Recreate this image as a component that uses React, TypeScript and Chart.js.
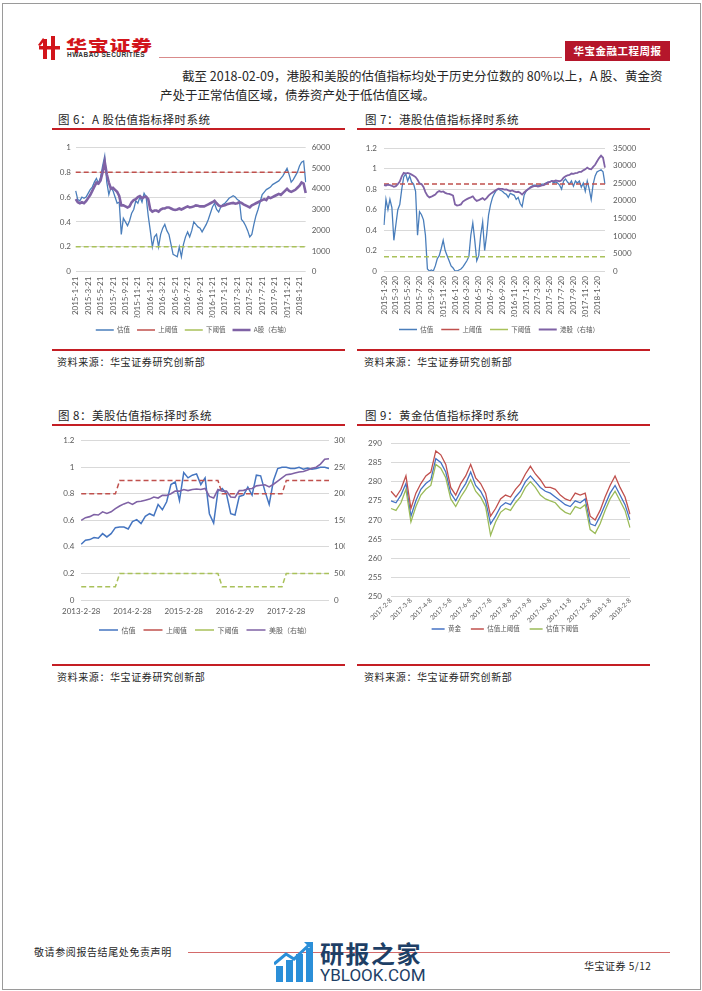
import React, { useEffect, useRef } from "react";
import { Chart, registerables } from "chart.js";

Chart.register(...registerables);

const NUM_FONT = "Lato, 'Noto Sans CJK SC', sans-serif";
const CJK_FONT = "'Noto Sans CJK SC', sans-serif";
const TICK_COLOR = "#595959";
const GRID_COLOR = "#d9d9d9";
const BLUE = "#4a7ebb";
const RED = "#c0504d";
const OLIVE = "#a9c15a";
const GREEN = "#9bbb59";
const PURPLE = "#7f62a5";
const RULE_RED = "#c41e24";

// ---------- 图6 A股 ----------
const a6Ticks = ["2015-1-21", "2015-3-21", "2015-5-21", "2015-7-21", "2015-9-21", "2015-11-21", "2016-1-21", "2016-3-21", "2016-5-21", "2016-7-21", "2016-9-21", "2016-11-21", "2017-1-21", "2017-3-21", "2017-5-21", "2017-7-21", "2017-9-21", "2017-11-21", "2018-1-21"];
const a6Valuation = [0.65, 0.58, 0.57, 0.60, 0.59, 0.60, 0.63, 0.66, 0.68, 0.72, 0.75, 0.71, 0.76, 0.85, 0.93, 0.72, 0.62, 0.68, 0.65, 0.60, 0.55, 0.56, 0.30, 0.43, 0.40, 0.37, 0.41, 0.47, 0.50, 0.57, 0.55, 0.60, 0.56, 0.63, 0.60, 0.45, 0.33, 0.20, 0.28, 0.30, 0.20, 0.30, 0.35, 0.38, 0.33, 0.30, 0.22, 0.14, 0.13, 0.12, 0.20, 0.12, 0.22, 0.28, 0.32, 0.28, 0.33, 0.40, 0.38, 0.36, 0.35, 0.32, 0.35, 0.38, 0.42, 0.47, 0.52, 0.55, 0.50, 0.48, 0.52, 0.54, 0.55, 0.57, 0.59, 0.60, 0.61, 0.60, 0.58, 0.57, 0.42, 0.40, 0.37, 0.33, 0.28, 0.30, 0.38, 0.45, 0.50, 0.56, 0.62, 0.64, 0.66, 0.67, 0.68, 0.70, 0.71, 0.72, 0.73, 0.75, 0.77, 0.80, 0.83, 0.78, 0.72, 0.74, 0.77, 0.80, 0.85, 0.88, 0.89, 0.72];
const a6Index = [3500, 3350, 3300, 3350, 3300, 3400, 3550, 3700, 3900, 4100, 4300, 4250, 4400, 4800, 5300, 4700, 4300, 4000, 4050, 3950, 3850, 3650, 3200, 3200, 3150, 3100, 3150, 3350, 3450, 3500, 3600, 3650, 3550, 3600, 3620, 3500, 3000, 2900, 2950, 2950, 2900, 3000, 3050, 3050, 3100, 3100, 3050, 3000, 2980, 3000, 3050, 3000, 3050, 3100, 3150, 3100, 3120, 3150, 3200, 3180, 3150, 3150, 3150, 3200, 3250, 3300, 3350, 3420, 3300, 3200, 3150, 3180, 3200, 3250, 3280, 3300, 3320, 3280, 3300, 3350, 3320, 3250, 3200, 3150, 3100, 3200, 3250, 3300, 3350, 3400, 3450, 3500, 3450, 3600, 3550, 3600, 3650, 3700, 3750, 3700, 3800, 3900, 4000, 3900, 3850, 3900, 3950, 4050, 4150, 4300, 4250, 3800];
const a6Upper = 0.8;
const a6Lower = 0.2;

// ---------- 图7 港股 ----------
const a7Ticks = ["2015-1-20", "2015-3-20", "2015-5-20", "2015-7-20", "2015-9-20", "2015-11-20", "2016-1-20", "2016-3-20", "2016-5-20", "2016-7-20", "2016-9-20", "2016-11-20", "2017-1-20", "2017-3-20", "2017-5-20", "2017-7-20", "2017-9-20", "2017-11-20", "2018-1-20"];
const a7Valuation = [0.45, 0.70, 0.60, 0.70, 0.62, 0.30, 0.45, 0.60, 0.65, 0.80, 0.92, 0.95, 0.88, 0.93, 0.87, 0.85, 0.78, 0.35, 0.58, 0.55, 0.50, 0.35, 0.02, 0.00, 0.01, 0.00, 0.05, 0.12, 0.15, 0.22, 0.30, 0.20, 0.15, 0.10, 0.05, 0.03, 0.00, 0.00, 0.01, 0.02, 0.04, 0.07, 0.10, 0.14, 0.35, 0.47, 0.30, 0.10, 0.15, 0.35, 0.48, 0.20, 0.35, 0.55, 0.65, 0.72, 0.76, 0.79, 0.80, 0.79, 0.78, 0.76, 0.75, 0.72, 0.76, 0.75, 0.74, 0.70, 0.72, 0.66, 0.63, 0.74, 0.78, 0.80, 0.82, 0.83, 0.84, 0.84, 0.83, 0.84, 0.85, 0.85, 0.86, 0.87, 0.87, 0.88, 0.86, 0.87, 0.86, 0.84, 0.80, 0.88, 0.90, 0.87, 0.85, 0.88, 0.83, 0.88, 0.86, 0.88, 0.82, 0.86, 0.78, 0.88, 0.80, 0.70, 0.85, 0.93, 0.97, 0.98, 0.99, 0.97, 0.85];
const a7Index = [24500, 24400, 24600, 24500, 24300, 24000, 24200, 24800, 25500, 27000, 28000, 27800, 28000, 27800, 27500, 27200, 26800, 26000, 25000, 24800, 24000, 22500, 21500, 21000, 21200, 21500, 21800, 22500, 22800, 22600, 22700, 22300, 22100, 22000, 21800, 21500, 19000, 18700, 18800, 19000, 19800, 20200, 20500, 20800, 21000, 21300, 20500, 20000, 20200, 20500, 20800, 20300, 20800, 21500, 22000, 22400, 22800, 23200, 23500, 23400, 23400, 23200, 23300, 23000, 22800, 23000, 22700, 22500, 22600, 22300, 21800, 22400, 22900, 23300, 23700, 24000, 24200, 24300, 24100, 24200, 24400, 24500, 24800, 25200, 25400, 25700, 25600, 25800, 25700, 25600, 25900, 26600, 27000, 27300, 27400, 27800, 27700, 27900, 28000, 28300, 28300, 28700, 29000, 29500, 29100, 29000, 29700, 30300, 31300, 32200, 32900, 32300, 29500];
const a7Upper = 0.85;
const a7Lower = 0.14;

// ---------- 图8 美股 ----------
const a8Ticks = ["2013-2-28", "2014-2-28", "2015-2-28", "2016-2-29", "2017-2-28"];
const a8Valuation = [0.42, 0.45, 0.455, 0.47, 0.465, 0.50, 0.475, 0.50, 0.545, 0.55, 0.55, 0.535, 0.59, 0.605, 0.575, 0.63, 0.65, 0.635, 0.72, 0.68, 0.74, 0.87, 0.89, 0.75, 0.96, 0.92, 0.94, 0.95, 0.87, 0.92, 0.65, 0.58, 0.82, 0.84, 0.80, 0.65, 0.64, 0.78, 0.79, 0.85, 0.79, 0.94, 0.935, 0.82, 0.72, 0.90, 0.99, 1.0, 1.0, 0.99, 0.99, 1.0, 0.985, 0.995, 0.985, 0.99, 1.0, 1.0, 0.99];
const a8Upper = [0.8, 0.8, 0.8, 0.8, 0.8, 0.8, 0.8, 0.8, 0.8, 0.9, 0.9, 0.9, 0.9, 0.9, 0.9, 0.9, 0.9, 0.9, 0.9, 0.9, 0.9, 0.9, 0.9, 0.9, 0.9, 0.9, 0.9, 0.9, 0.9, 0.9, 0.9, 0.9, 0.9, 0.8, 0.8, 0.8, 0.8, 0.8, 0.8, 0.8, 0.8, 0.8, 0.8, 0.8, 0.8, 0.8, 0.8, 0.8, 0.9, 0.9, 0.9, 0.9, 0.9, 0.9, 0.9, 0.9, 0.9, 0.9, 0.9];
const a8Lower = [0.1, 0.1, 0.1, 0.1, 0.1, 0.1, 0.1, 0.1, 0.1, 0.2, 0.2, 0.2, 0.2, 0.2, 0.2, 0.2, 0.2, 0.2, 0.2, 0.2, 0.2, 0.2, 0.2, 0.2, 0.2, 0.2, 0.2, 0.2, 0.2, 0.2, 0.2, 0.2, 0.2, 0.1, 0.1, 0.1, 0.1, 0.1, 0.1, 0.1, 0.1, 0.1, 0.1, 0.1, 0.1, 0.1, 0.1, 0.1, 0.2, 0.2, 0.2, 0.2, 0.2, 0.2, 0.2, 0.2, 0.2, 0.2, 0.2];
const a8Index = [1500, 1550, 1570, 1610, 1600, 1660, 1630, 1660, 1720, 1770, 1810, 1840, 1800, 1850, 1860, 1880, 1900, 1940, 1920, 1970, 1970, 2000, 2050, 2050, 2080, 2060, 2080, 2090, 2080, 2100, 1950, 1920, 2080, 2050, 2050, 1940, 1930, 2060, 2065, 2090, 2100, 2150, 2160, 2170, 2130, 2180, 2240, 2300, 2360, 2370, 2390, 2410, 2420, 2450, 2480, 2500, 2560, 2650, 2660];

// ---------- 图9 黄金 ----------
const a9Ticks = ["2017-2-8", "2017-3-8", "2017-4-8", "2017-5-8", "2017-6-8", "2017-7-8", "2017-8-8", "2017-9-8", "2017-10-8", "2017-11-8", "2017-12-8", "2018-1-8", "2018-2-8"];
const a9Gold = [275, 274.5, 276.5, 279.5, 271, 275, 278, 279.5, 280.5, 286, 285, 282.5, 277, 275, 277.5, 279.5, 282.5, 279, 277.5, 275, 269, 271, 273.5, 274.5, 274, 276, 277.5, 280, 281.5, 280, 278.5, 277.5, 277, 276, 275, 274, 273.5, 275, 274.5, 275.5, 269, 268.5, 271, 274, 277, 279, 276.5, 274, 270];
const a9Upper = [277.5, 276, 278, 281.5, 273, 277, 279.5, 281.5, 282.5, 288, 287, 284.5, 278.5, 276.5, 279.5, 281.5, 284.5, 281, 279.5, 277, 271, 273, 275.5, 276.5, 276, 278, 279.5, 282, 284, 282, 280.5, 278.5, 278.5, 278, 276.5, 275.5, 275, 277, 276.5, 277, 271, 270, 272.5, 276, 279, 281.5, 278.5, 276, 271.5];
const a9Lower = [273, 272.5, 274.5, 278, 269.5, 273.5, 276.5, 278, 279, 284.5, 283.5, 281, 275.5, 273.5, 276, 278, 280.5, 277.5, 276, 273.5, 266, 269.5, 272, 273, 272.5, 274.5, 276, 278.5, 280, 278.5, 276.5, 275.5, 275, 274.5, 273, 272, 271.5, 273.5, 273, 274, 267.5, 266.5, 269, 272.5, 275.5, 277.5, 275, 272.5, 268];

// ---------- helpers ----------
function ds(label: string, data: number[], color: string, width: number, yAxisID: string, order: number, dash: number[] = []) {
  return {
    label,
    data,
    borderColor: color,
    backgroundColor: color,
    borderWidth: width,
    borderDash: dash,
    pointRadius: 0,
    pointHoverRadius: 0,
    tension: 0,
    fill: false,
    yAxisID,
    order,
  };
}

const fixW = (w: number) => (s: any) => {
  s.width = w;
};
const fixH = (h: number) => (s: any) => {
  s.height = h;
};

// places the legend row so that its items are centred at (cx, cy) in canvas px
function legendPlace(cx: number, cy: number) {
  return {
    id: "legendPlace",
    afterLayout(chart: any) {
      const lg = chart.legend;
      if (!lg) return;
      const pad = lg.options.labels.padding;
      const size = lg.options.labels.font.size;
      const newTop = cy - pad - size / 2;
      const dy = newTop - lg.top;
      const dx = cx - (lg.left + lg.right) / 2;
      lg.top += dy;
      lg.bottom += dy;
      lg.left += dx;
      lg.right += dx;
    },
  };
}

function legendOpts(size: number, lineW: number, padding: number) {
  return {
    position: "bottom",
    labels: {
      usePointStyle: true,
      pointStyle: "line",
      pointStyleWidth: lineW,
      padding,
      color: TICK_COLOR,
      font: { size, family: CJK_FONT },
      sort: (a: any, b: any) => a.datasetIndex - b.datasetIndex,
    },
  };
}

const tickFont = { size: 8, family: NUM_FONT };
const fmt = (v: any) => String(Math.round(Number(v) * 1000) / 1000);

function yAxis(pos: "left" | "right", min: number, max: number, step: number, pad: number, width: number, grid: boolean) {
  return {
    position: pos,
    min,
    max,
    ticks: { stepSize: step, padding: pad, color: TICK_COLOR, font: tickFont, callback: fmt },
    grid: { display: grid, color: GRID_COLOR, drawTicks: false, lineWidth: 1 },
    border: { display: false },
    afterFit: fixW(width),
  };
}

function xAxis(tickLabels: string[], every: number, rotation: number, pad: number, height: number, size = 8) {
  return {
    ticks: {
      autoSkip: false,
      maxRotation: rotation,
      minRotation: rotation,
      padding: pad,
      color: TICK_COLOR,
      font: { size, family: NUM_FONT },
      callback: (_v: any, i: number) => (i % every === 0 && tickLabels[i / every] ? tickLabels[i / every] : null),
    },
    grid: { display: false, drawTicks: false },
    border: { display: false },
    afterFit: fixH(height),
  };
}

// bottom padding so that the plot bottom lands at plotBottom (canvas px)
const padBottom = (H: number, plotBottom: number, xH: number, lgSize: number, lgPad: number) => H - plotBottom - xH - (lgSize + lgPad + 10);

function baseOptions(padding: any, scales: any, legend: any) {
  return {
    animation: false,
    responsive: false,
    events: [],
    layout: { padding },
    plugins: { legend, tooltip: { enabled: false }, title: { display: false } },
    scales,
  };
}

const make6 = () => ({
  type: "line",
  data: {
    labels: a6Valuation.map((_, i) => String(i)),
    datasets: [
      ds("估值", a6Valuation, BLUE, 1.3, "y", 4),
      ds("上阈值", a6Valuation.map(() => a6Upper), RED, 1.5, "y", 3, [5, 3]),
      ds("下阈值", a6Valuation.map(() => a6Lower), OLIVE, 1.5, "y", 2, [5, 3]),
      ds("A股（右轴）", a6Index, PURPLE, 2.6, "y1", 1),
    ],
  },
  options: baseOptions(
    { left: 0, right: 14, top: 16.3, bottom: padBottom(215, 140.7, 45.8, 6.5, 7) },
    {
      x: xAxis(a6Ticks, 6, 90, 5, 45.8),
      y: yAxis("left", 0, 1, 0.1, 4.7, 20.7, true),
      y1: yAxis("right", 0, 6000, 1000, 6, 25.3, false),
    },
    legendOpts(6.5, 18, 7)
  ),
  plugins: [legendPlace(193 - 55, 330 - 131)],
});

const make7 = () => ({
  type: "line",
  data: {
    labels: a7Valuation.map((_, i) => String(i)),
    datasets: [
      ds("估值", a7Valuation, BLUE, 1.3, "y", 4),
      ds("上阈值", a7Valuation.map(() => a7Upper), RED, 1.5, "y", 3, [5, 3]),
      ds("下阈值", a7Valuation.map(() => a7Lower), OLIVE, 1.5, "y", 2, [5, 3]),
      ds("港股（右轴）", a7Index, PURPLE, 1.8, "y1", 1),
    ],
  },
  options: baseOptions(
    { left: 0, right: 10, top: 17.3, bottom: padBottom(215, 140, 45.8, 6.5, 8) },
    {
      x: xAxis(a7Ticks, 6, 90, 5, 45.8),
      y: yAxis("left", 0, 1.2, 0.2, 7, 26, true),
      y1: yAxis("right", 0, 35000, 5000, 8, 35, false),
    },
    legendOpts(6.5, 18, 8)
  ),
  plugins: [legendPlace(499 - 358, 329.5 - 131)],
});

const make8 = () => ({
  type: "line",
  data: {
    labels: a8Valuation.map((_, i) => String(i)),
    datasets: [
      ds("估值", a8Valuation, "#4575c0", 1.5, "y", 4),
      ds("上阈值", a8Upper, RED, 1.5, "y", 3, [5, 3]),
      ds("下阈值", a8Lower, OLIVE, 1.5, "y", 2, [5, 3]),
      ds("美股（右轴）", a8Index, PURPLE, 1.6, "y1", 1),
    ],
  },
  options: baseOptions(
    { left: 0, right: 0, top: 12.7, bottom: padBottom(222, 172, 17.5, 7, 8) },
    {
      x: xAxis(a8Ticks, 12, 0, 7, 17.5),
      y: yAxis("left", 0, 1.2, 0.2, 6.7, 21.7, true),
      y1: yAxis("right", 0, 3000, 500, 5, 26, false),
    },
    legendOpts(7, 19, 8)
  ),
  plugins: [legendPlace(205 - 55, 630 - 428)],
});

const make9 = () => ({
  type: "line",
  data: {
    labels: a9Gold.map((_, i) => String(i)),
    datasets: [
      ds("黄金", a9Gold, "#4472c4", 1.3, "y", 3),
      ds("估值上阈值", a9Upper, RED, 1.3, "y", 2),
      ds("估值下阈值", a9Lower, GREEN, 1.3, "y", 1),
    ],
  },
  options: baseOptions(
    { left: 0, right: 20, top: 15.3, bottom: padBottom(235, 168.7, 30, 6.5, 10) },
    {
      x: xAxis(a9Ticks, 4, 45, 0, 30, 6.5),
      y: yAxis("left", 250, 290, 5, 9, 33, true),
    },
    legendOpts(6.5, 13, 10)
  ),
  plugins: [legendPlace(505 - 358, 629 - 428)],
});

type Box = { left: number; top: number; width: number; height: number; clipWidth?: number };

function ChartCanvas({ box, make }: { box: Box; make: () => any }) {
  const ref = useRef<HTMLCanvasElement>(null);
  useEffect(() => {
    const chart = new Chart(ref.current as HTMLCanvasElement, make());
    return () => chart.destroy();
  }, []);
  return (
    <div
      style={{
        position: "absolute",
        left: box.left,
        top: box.top,
        width: box.clipWidth ?? box.width,
        height: box.height,
        overflow: "hidden",
      }}
    >
      <canvas ref={ref} width={box.width} height={box.height} style={{ display: "block", width: box.width, height: box.height }} />
    </div>
  );
}

function T({ x, y, size, children, color = "#262626", weight = 400, family = CJK_FONT, ls = 0, style = {} }: any) {
  return (
    <div
      style={{
        position: "absolute",
        left: x,
        top: y - size * 0.6,
        fontSize: size,
        lineHeight: `${size * 1.2}px`,
        color,
        fontWeight: weight,
        fontFamily: family,
        letterSpacing: ls,
        whiteSpace: "nowrap",
        ...style,
      }}
    >
      {children}
    </div>
  );
}

function Rule({ x1, x2, y, h = 2, color = RULE_RED }: any) {
  return <div style={{ position: "absolute", left: x1, top: y - h / 2, width: x2 - x1, height: h, background: color }} />;
}

const LOGO_RED = "#d2151b";

export default function App() {
  return (
    <div style={{ position: "absolute", left: 0, top: 0, width: 702, height: 991, background: "#fff", overflow: "hidden" }}>
      {/* page frame */}
      <div style={{ position: "absolute", left: 2, top: 3, width: 697, height: 985, border: "1px solid #9a9a9a" }} />

      {/* header logo */}
      <svg style={{ position: "absolute", left: 38, top: 36 }} width={22} height={24} viewBox="0 0 22 24">
        <polygon points="0,9 5,2 7,4 2,10" fill={LOGO_RED} />
        <rect x="5" y="3" width="4" height="20" fill={LOGO_RED} />
        <rect x="13" y="0" width="4" height="24" fill={LOGO_RED} />
        <rect x="1" y="10" width="21" height="3.5" fill={LOGO_RED} />
      </svg>
      <T x={66} y={45} size={15} weight={900} color={LOGO_RED} ls={0.5} style={{ transform: "scaleX(1.4)", transformOrigin: "left center" }}>
        华宝证券
      </T>
      <T x={67} y={55} size={6.5} weight={700} color="#333" family="'Liberation Sans', sans-serif" ls={0.45}>
        HWABAO SECURITIES
      </T>
      <Rule x1={159} x2={562} y={57} h={1} color="#d98b8b" />
      <div style={{ position: "absolute", left: 565, top: 41, width: 105, height: 20, background: "#b5162b" }} />
      <T x={565} y={51} size={10.5} weight={700} color="#fff" style={{ width: 105, textAlign: "center" }} ls={0.5}>
        华宝金融工程周报
      </T>

      {/* paragraph */}
      <T x={182} y={75} size={12.5} ls={0}>
        截至 2018-02-09，港股和美股的估值指标均处于历史分位数的 80%以上，A 股、黄金资
      </T>
      <T x={160} y={94} size={12.5} ls={0}>
        产处于正常估值区域，债券资产处于低估值区域。
      </T>

      {/* titles row 1 */}
      <T x={58} y={120} size={11.5} ls={0.5}>图 6：A 股估值指标择时系统</T>
      <T x={365} y={120} size={11.5} ls={0.5}>图 7：港股估值指标择时系统</T>
      <Rule x1={52} x2={345} y={129} />
      <Rule x1={357} x2={650} y={129} />

      <ChartCanvas box={{ left: 55, top: 131, width: 290, height: 215 }} make={make6} />
      <ChartCanvas box={{ left: 358, top: 131, width: 292, height: 215 }} make={make7} />

      <Rule x1={52} x2={345} y={350} />
      <Rule x1={357} x2={650} y={350} />
      <T x={57} y={362} size={10} ls={0.6}>资料来源：华宝证券研究创新部</T>
      <T x={364} y={362} size={10} ls={0.6}>资料来源：华宝证券研究创新部</T>

      {/* titles row 2 */}
      <T x={58} y={416} size={11.5} ls={0.5}>图 8：美股估值指标择时系统</T>
      <T x={365} y={416} size={11.5} ls={0.5}>图 9：黄金估值指标择时系统</T>
      <Rule x1={52} x2={345} y={425} />
      <Rule x1={357} x2={650} y={425} />

      <ChartCanvas box={{ left: 55, top: 428, width: 300, height: 222, clipWidth: 290 }} make={make8} />
      <ChartCanvas box={{ left: 358, top: 428, width: 292, height: 235 }} make={make9} />

      <Rule x1={52} x2={345} y={665} />
      <Rule x1={357} x2={650} y={665} />
      <T x={57} y={677} size={10} ls={0.6}>资料来源：华宝证券研究创新部</T>
      <T x={364} y={677} size={10} ls={0.6}>资料来源：华宝证券研究创新部</T>

      {/* footer */}
      <T x={34} y={952} size={10} ls={0.6}>敬请参阅报告结尾处免责声明</T>
      <Rule x1={188} x2={670} y={952} h={1} color="#d46a6a" />
      <T x={584} y={966} size={10} ls={0.5}>华宝证券 5/12</T>

      {/* watermark */}
      <svg style={{ position: "absolute", left: 274, top: 942 }} width={40} height={40} viewBox="0 0 40 40">
        <rect x="2" y="24" width="7" height="16" fill="#2b8fd8" />
        <rect x="12" y="18" width="7" height="22" fill="#2b8fd8" />
        <rect x="22" y="12" width="7" height="28" fill="#2b8fd8" />
        <rect x="32" y="6" width="7" height="34" fill="#2b8fd8" />
        <polyline points="0,22 12,12 20,17 36,2" fill="none" stroke="#2b8fd8" strokeWidth="3" />
        <polygon points="30,0 39,0 39,9" fill="#2b8fd8" />
      </svg>
      <T x={320} y={953} size={24} weight={700} color="#1e3f66" ls={1.5}>研报之家</T>
      <T x={320} y={975} size={17} color="#1e3f66" family="Roboto, sans-serif">YBLOOK.COM</T>
    </div>
  );
}
